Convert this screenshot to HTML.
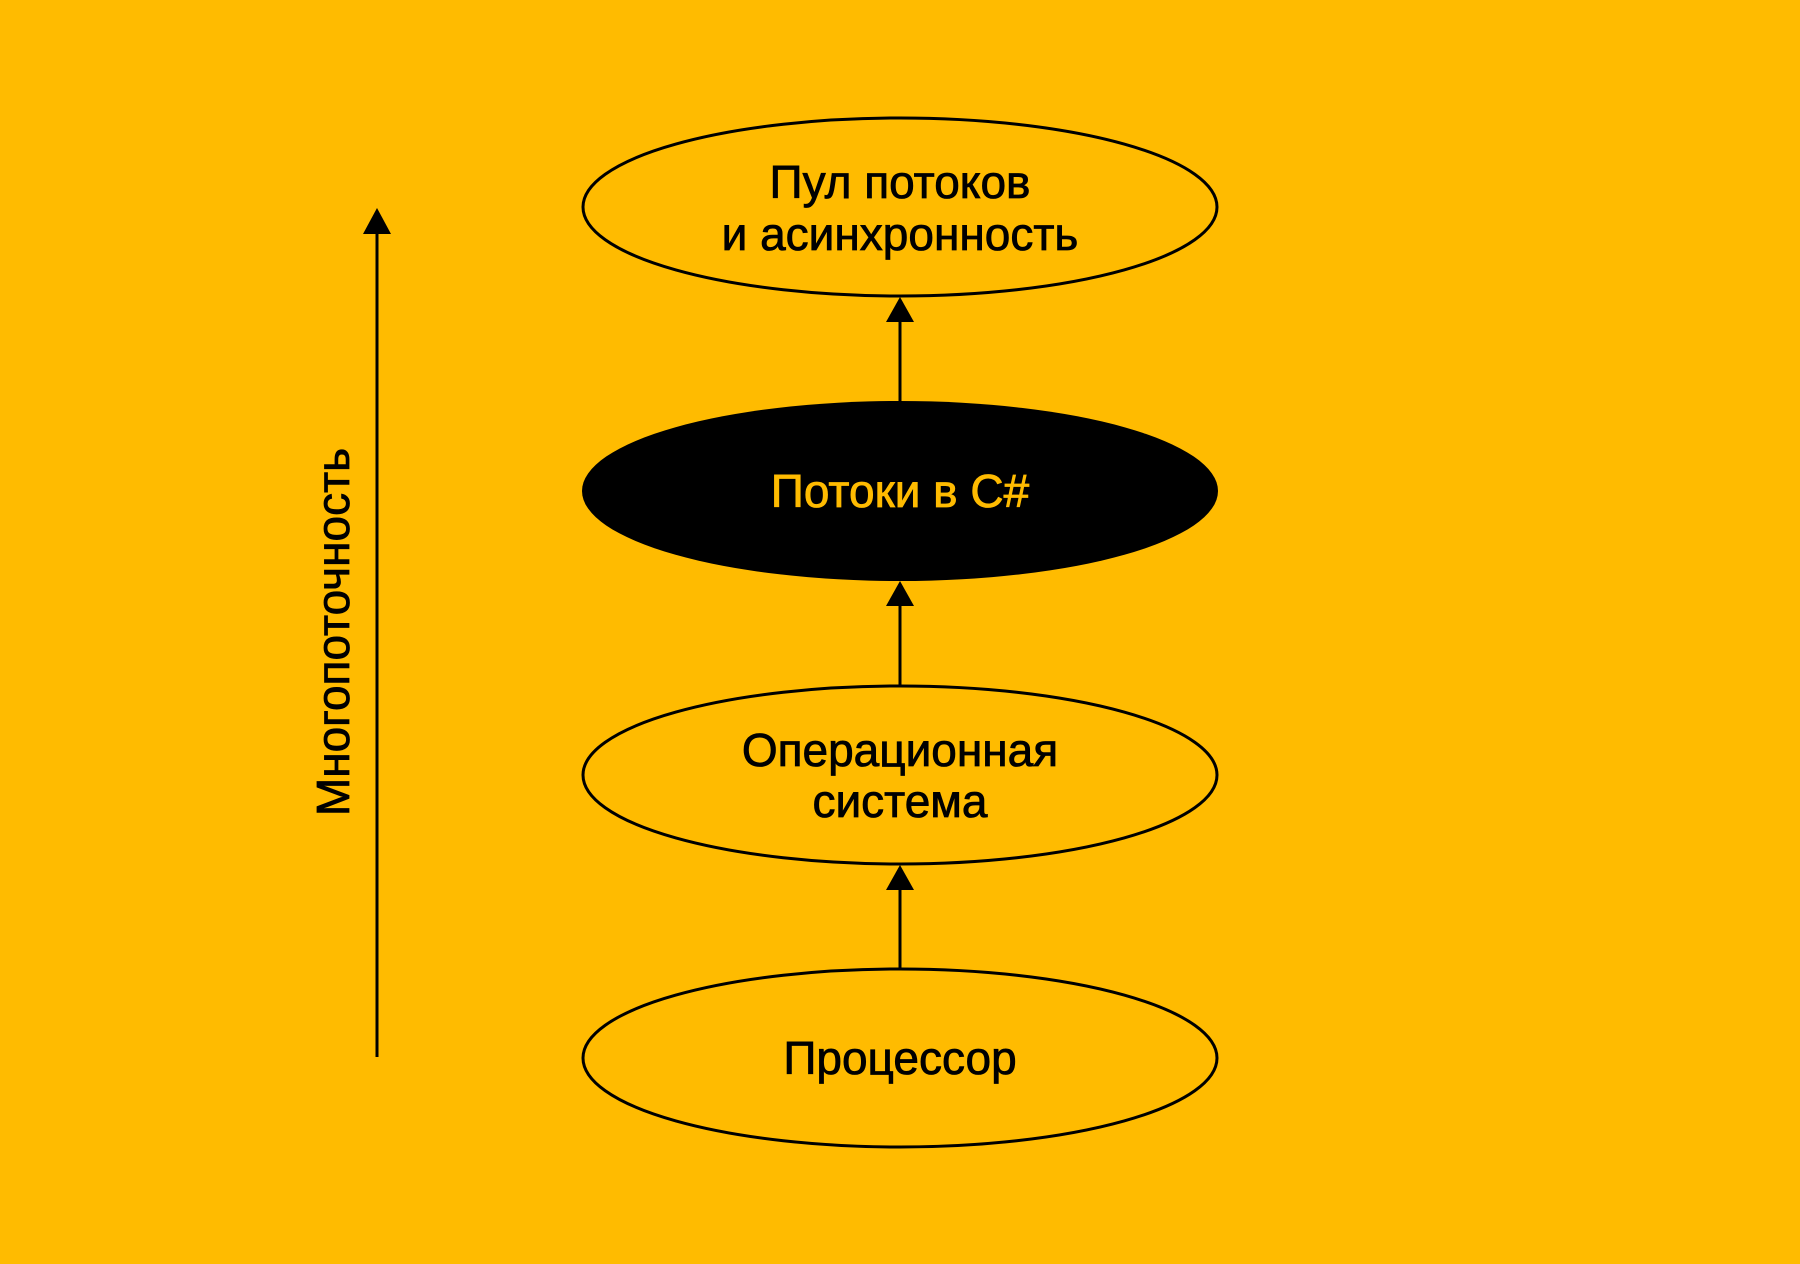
<!DOCTYPE html>
<html><head><meta charset="utf-8"><style>
html,body{margin:0;padding:0;background:#FFBB00;}
svg{display:block}
text{font-family:"Liberation Sans","DejaVu Sans",sans-serif;font-size:46px;stroke-width:0.8px;}
</style></head><body>
<svg width="1800" height="1264" viewBox="0 0 1800 1264">
<rect width="1800" height="1264" fill="#FFBB00"/>
<!-- left axis -->
<line x1="377" y1="1057" x2="377" y2="230" stroke="#000" stroke-width="3"/>
<polygon points="377,208 363,234 391,234" fill="#000"/>
<text transform="translate(349,632) rotate(-90)" text-anchor="middle" fill="#000" stroke="#000" font-size="53">Многопоточность</text>
<!-- ellipses -->
<ellipse cx="900" cy="207" rx="317" ry="89" fill="none" stroke="#000" stroke-width="3"/>
<ellipse cx="900" cy="491" rx="318" ry="90" fill="#000"/>
<ellipse cx="900" cy="775" rx="317" ry="89" fill="none" stroke="#000" stroke-width="3"/>
<ellipse cx="900" cy="1058" rx="317" ry="89" fill="none" stroke="#000" stroke-width="3"/>
<!-- connectors -->
<line x1="900" y1="401" x2="900" y2="318" stroke="#000" stroke-width="3"/>
<polygon points="900,297 886,322 914,322" fill="#000"/>
<line x1="900" y1="686" x2="900" y2="602" stroke="#000" stroke-width="3"/>
<polygon points="900,581 886,606 914,606" fill="#000"/>
<line x1="900" y1="969" x2="900" y2="886" stroke="#000" stroke-width="3"/>
<polygon points="900,865 886,890 914,890" fill="#000"/>
<!-- labels -->
<text x="900" y="198" text-anchor="middle" fill="#000" stroke="#000">Пул потоков</text>
<text x="900" y="250" text-anchor="middle" fill="#000" stroke="#000">и асинхронность</text>
<text x="900" y="507" text-anchor="middle" fill="#FFBB00" stroke="#FFBB00">Потоки в C#</text>
<text x="900" y="766" text-anchor="middle" fill="#000" stroke="#000">Операционная</text>
<text x="900" y="817" text-anchor="middle" fill="#000" stroke="#000">система</text>
<text x="900" y="1074" text-anchor="middle" fill="#000" stroke="#000">Процессор</text>
</svg>
</body></html>
